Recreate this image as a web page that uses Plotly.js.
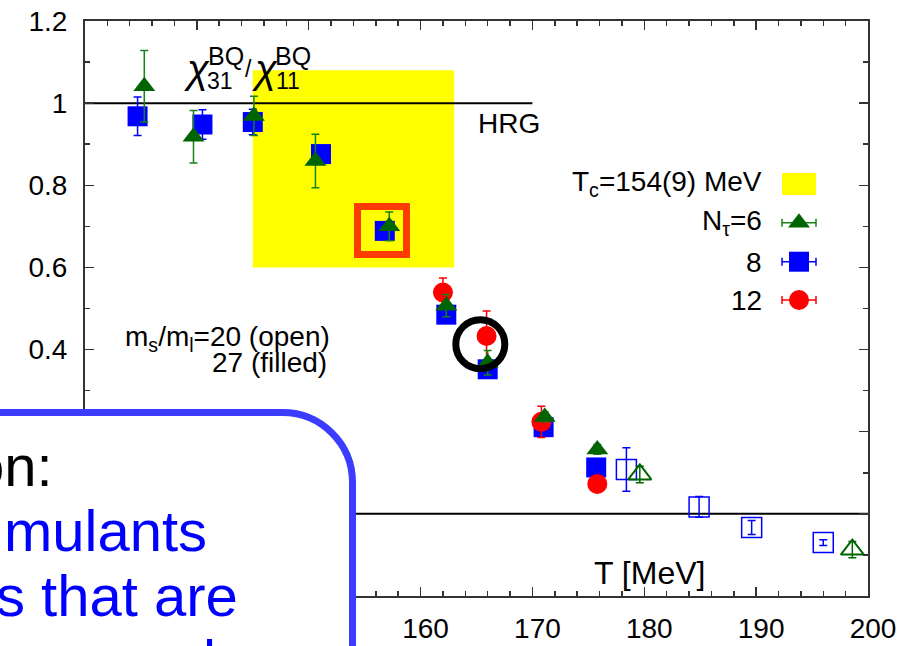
<!DOCTYPE html>
<html>
<head>
<meta charset="utf-8">
<script src="https://cdn.plot.ly/plotly-3.0.1.min.js"></script>
<style>
  html, body { margin: 0; padding: 0; background: #ffffff; }
  #chart { width: 917px; height: 646px; }
</style>
</head>
<body>
<div id="chart"></div>
<script>
// chi_31^BQ / chi_11^BQ versus temperature T [MeV]

// N_tau = 6, ms/ml = 27 (filled triangles)
const t6  = [135.3, 139.7, 145.1, 150.6, 157.2, 162.3, 166.0, 171.1, 175.8];
const r6  = [1.041, 0.918, 0.969, 0.859, 0.700, 0.507, 0.368, 0.236, 0.157];
const e6  = [0.087, 0.064, 0.048, 0.065, 0.035, 0.027, 0.030, 0.012, 0.012];

// N_tau = 8, ms/ml = 27 (filled squares)
const t8  = [134.7, 140.5, 145.0, 151.1, 156.8, 162.3, 166.0, 171.0, 175.7];
const r8  = [0.968, 0.948, 0.954, 0.876, 0.689, 0.485, 0.352, 0.211, 0.113];
const e8  = [0.047, 0.036, 0.031, 0.015, 0.012, 0.012, 0.015, 0.015, 0.012];

// N_tau = 12, ms/ml = 27 (filled circles)
const t12 = [162.0, 165.9, 170.8, 175.8];
const r12 = [0.539, 0.433, 0.224, 0.073];
const e12 = [0.035, 0.061, 0.038, 0.015];

// ms/ml = 20 (open symbols)
const t8o = [178.4, 184.9, 189.6, 196.0];
const r8o = [0.108, 0.017, -0.033, -0.070];
const e8o = [0.053, 0.025, 0.017, 0.007];
const t6o = [179.6, 198.6];
const r6o = [0.096, -0.087];
const e6o = [0.020, 0.020];

// pseudo-critical temperature band and HRG limit
const tc = 154, tcErr = 9;
const tcBandY = [0.6, 1.08];
const hrgValue = 1, hrgTmax = 170;

const FONT = 'Liberation Sans, Arial, Helvetica, sans-serif';
const BLUE = '#0000ff', RED = '#ff0000', GREEN = '#006400', GREEN_ERR = '#1a801a';

// plot-area frame in pixels, used to place overlay items in paper units
const L = 85, R = 868, T = 21, B = 596;
const px = x => (x - L) / (R - L);
const py = y => (B - y) / (B - T);

const errY = (arr, color) => ({ type: 'data', array: arr, visible: true, color: color, thickness: 1.5, width: 4 });

const traces = [
  { x: t8, y: r8, mode: 'markers', type: 'scatter',
    marker: { symbol: 'square', size: 20, color: BLUE, line: { width: 0 } },
    error_y: errY(e8, BLUE) },
  { x: t12, y: r12, mode: 'markers', type: 'scatter',
    marker: { symbol: 'circle', size: 20, color: RED, line: { width: 0 } },
    error_y: errY(e12, RED) },
  { x: t6, y: r6, mode: 'markers', type: 'scatter',
    marker: { symbol: 'triangle-up', size: 19, color: GREEN, line: { width: 0 } },
    error_y: errY(e6, GREEN_ERR) },
  { x: t8o, y: r8o, mode: 'markers', type: 'scatter',
    marker: { symbol: 'square-open', size: 20, color: BLUE, line: { width: 1.5, color: BLUE } },
    error_y: errY(e8o, BLUE) },
  { x: t6o, y: r6o, mode: 'markers', type: 'scatter',
    marker: { symbol: 'triangle-up-open', size: 20, color: GREEN, line: { width: 2, color: GREEN } },
    error_y: errY(e6o, GREEN) }
];

// legend keys, drawn on a pixel-scaled overlay axis pair
const keyErr = color => ({ type: 'constant', value: 17, visible: true, color: color, thickness: 1.5, width: 4 });
traces.push(
  { x: [799], y: [222.7], xaxis: 'x2', yaxis: 'y2', mode: 'markers', type: 'scatter',
    marker: { symbol: 'triangle-up', size: 19, color: GREEN }, error_x: keyErr(GREEN_ERR) },
  { x: [799], y: [261.7], xaxis: 'x2', yaxis: 'y2', mode: 'markers', type: 'scatter',
    marker: { symbol: 'square', size: 20, color: BLUE }, error_x: keyErr(BLUE) },
  { x: [799], y: [300], xaxis: 'x2', yaxis: 'y2', mode: 'markers', type: 'scatter',
    marker: { symbol: 'circle', size: 20, color: RED }, error_x: keyErr(RED) }
);

// rounded call-out box in the lower left corner
const k = 0.5523, rad = 70, bx = 352.5, by = 412.5;
const P = (x, y) => px(x).toFixed(5) + ',' + py(y).toFixed(5);
const boxPath = 'M' + P(-40, by) + ' L' + P(bx - rad, by) +
  ' C' + P(bx - rad + rad * k, by) + ' ' + P(bx, by + rad - rad * k) + ' ' + P(bx, by + rad) +
  ' L' + P(bx, 720) + ' L' + P(-40, 720) + ' Z';

const shapes = [
  { type: 'rect', xref: 'x', yref: 'y', x0: tc - tcErr, x1: tc + tcErr, y0: tcBandY[0], y1: tcBandY[1],
    fillcolor: '#ffff00', line: { width: 0 }, layer: 'below' },
  { type: 'line', xref: 'x', yref: 'y', x0: 130, x1: hrgTmax, y0: hrgValue, y1: hrgValue,
    line: { color: '#000000', width: 2 }, layer: 'below' },
  { type: 'line', xref: 'x', yref: 'y', x0: 130, x1: 200, y0: 0, y1: 0,
    line: { color: '#000000', width: 2 }, layer: 'below' },
  // legend key for the T_c band
  { type: 'rect', xref: 'paper', yref: 'paper', x0: px(782), x1: px(816), y0: py(195), y1: py(173),
    fillcolor: '#ffff00', line: { width: 0 }, layer: 'above' },
  // highlight marks
  { type: 'rect', xref: 'paper', yref: 'paper', x0: px(357.5), x1: px(406.5), y0: py(254.5), y1: py(206.5),
    line: { color: '#ff3c00', width: 7 }, layer: 'above' },
  { type: 'circle', xref: 'paper', yref: 'paper', x0: px(455.8), x1: px(504.8), y0: py(368.7), y1: py(319.7),
    line: { color: '#000000', width: 7 }, layer: 'above' },
  { type: 'path', xref: 'paper', yref: 'paper', path: boxPath,
    fillcolor: '#ffffff', line: { color: '#3c3cff', width: 7 }, layer: 'above' }
];

const ann = (text, x, y, size, opts) => Object.assign({
  text: text, xref: 'paper', yref: 'paper', x: px(x), y: py(y),
  xanchor: 'center', yanchor: 'middle', showarrow: false,
  font: { family: FONT, size: size, color: '#000000' }
}, opts || {});

const annotations = [
  // title
  ann('<i>\u03c7</i>', 196.5, 69, 40),
  ann('31', 220, 80.7, 23),
  ann('BQ', 225.8, 55.7, 25),
  ann('/', 248, 69, 23),
  ann('<i>\u03c7</i>', 264.5, 69, 40),
  ann('11', 287.5, 80.7, 23),
  ann('BQ', 293, 55.7, 25),
  // labels inside the frame
  ann('HRG', 509, 123, 28),
  ann('T [MeV]', 649, 573, 32),
  ann('m<sub>s</sub>/m<sub>l</sub>=20 (open)', 332, 338, 28, { xanchor: 'right' }),
  ann('27 (filled)', 329, 362, 28, { xanchor: 'right' }),
  // legend
  ann('T<sub>c</sub>=154(9) MeV', 764, 183.5, 28, { xanchor: 'right' }),
  ann('N<sub>\u03c4</sub>=6', 764, 222.8, 28, { xanchor: 'right' }),
  ann('8', 764, 262.5, 28, { xanchor: 'right' }),
  ann('12', 764, 300.8, 28, { xanchor: 'right' }),
  // call-out box text
  ann('on:', 55, 465, 58, { xanchor: 'right' }),
  ann('mulants', 209, 530, 58, { xanchor: 'right', font: { family: FONT, size: 58, color: BLUE } }),
  ann('s that are', 240, 595, 58, { xanchor: 'right', font: { family: FONT, size: 58, color: BLUE } }),
  ann('measured', 218, 660, 58, { xanchor: 'right', font: { family: FONT, size: 58, color: BLUE } })
];

const axisCommon = {
  ticks: 'inside', ticklen: 9, tickwidth: 1.5, tickcolor: '#333333',
  showline: true, linecolor: '#333333', linewidth: 2, mirror: 'allticks',
  showgrid: false, zeroline: false, fixedrange: true,
  tickfont: { family: FONT, size: 28, color: '#000000' }
};

const layout = {
  width: 917, height: 646,
  margin: { l: L, r: 917 - R, t: T, b: 646 - B, pad: 0 },
  paper_bgcolor: '#ffffff', plot_bgcolor: '#ffffff',
  showlegend: false,
  xaxis: Object.assign({}, axisCommon, {
    range: [130, 200], tick0: 130, dtick: 10, ticklabelshift: 5, ticklabelstandoff: 6,
    minor: { dtick: 2, ticks: 'inside', ticklen: 5, tickwidth: 1.5, tickcolor: '#333333', showgrid: false }
  }),
  yaxis: Object.assign({}, axisCommon, {
    range: [-0.2, 1.2], tick0: 0, dtick: 0.2, ticklabelstandoff: 10,
    minor: { dtick: 0.1, ticks: 'inside', ticklen: 5, tickwidth: 1.5, tickcolor: '#333333', showgrid: false }
  }),
  xaxis2: { overlaying: 'x', range: [L, R], visible: false, fixedrange: true },
  yaxis2: { overlaying: 'y', range: [B, T], visible: false, fixedrange: true },
  shapes: shapes,
  annotations: annotations
};

Plotly.newPlot('chart', traces, layout, { staticPlot: true, displayModeBar: false });
</script>
</body>
</html>
